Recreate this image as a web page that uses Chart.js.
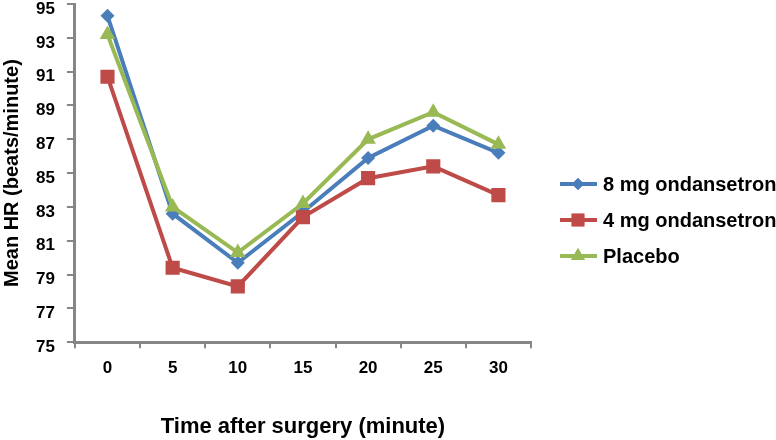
<!DOCTYPE html>
<html>
<head>
<meta charset="utf-8">
<script src="https://cdn.jsdelivr.net/npm/chart.js@4"></script>
<style>
  html, body { margin: 0; padding: 0; background: #fff; }
  #wrap { width: 776px; height: 440px; }
</style>
</head>
<body>
<div id="wrap"><canvas id="myChart"></canvas></div>
<script>
const minutes = ['0', '5', '10', '15', '20', '25', '30'];
const ond8 = [94.3, 82.6, 79.7, 82.7, 85.9, 87.8, 86.2];
const ond4 = [90.7, 79.4, 78.3, 82.4, 84.7, 85.4, 83.7];
const placebo = [93.2, 83.0, 80.3, 83.2, 87.0, 88.6, 86.7];
const seriesNames = ['8 mg ondansetron', '4 mg ondansetron', 'Placebo'];

const axisGrey = '#868686';
const font = 'Liberation Sans, Arial, sans-serif';

// legend drawn by hand: line with marker, like the office chart
const sideLegend = {
  id: 'sideLegend',
  afterDraw(chart) {
    const c = chart.ctx;
    const area = chart.chartArea;
    const x0 = area.right + 29;
    let y = 184;
    chart.data.datasets.forEach(ds => {
      c.save();
      c.strokeStyle = ds.borderColor;
      c.lineWidth = 4;
      c.beginPath();
      c.moveTo(x0, y);
      c.lineTo(x0 + 37, y);
      c.stroke();
      c.fillStyle = ds.borderColor;
      Chart.helpers.drawPoint(c, {pointStyle: ds.pointStyle, radius: ds.pointRadius - 1, borderWidth: 0}, x0 + 18, y);
      c.fill();
      c.fillStyle = '#000';
      c.font = 'bold 20px ' + font;
      c.textBaseline = 'middle';
      c.fillText(ds.label, x0 + 43, y + 1);
      c.restore();
      y += 36;
    });
  }
};

const ctx = document.getElementById('myChart').getContext('2d');

new Chart(ctx, {
  type: 'line',
  data: {
    labels: minutes,
    datasets: [{
      label: seriesNames[0],
      data: ond8,
      borderColor: '#4A7EBB',
      backgroundColor: '#4A7EBB',
      pointStyle: 'rectRot',
      pointRadius: 7,
      order: 3
    }, {
      label: seriesNames[1],
      data: ond4,
      borderColor: '#BE4B48',
      backgroundColor: '#BE4B48',
      pointStyle: 'rect',
      pointRadius: 10,
      order: 2
    }, {
      label: seriesNames[2],
      data: placebo,
      borderColor: '#98B954',
      backgroundColor: '#98B954',
      pointStyle: 'triangle',
      pointRadius: 9,
      order: 1
    }]
  },
  options: {
    responsive: true,
    maintainAspectRatio: false,
    animation: false,
    elements: {
      line: { borderWidth: 4, tension: 0 },
      point: { borderWidth: 0, hoverRadius: 9 }
    },
    layout: {
      autoPadding: false,
      padding: { left: 0, right: 245, top: 4, bottom: 0 }
    },
    scales: {
      x: {
        offset: true,
        grid: {
          offset: true,
          drawOnChartArea: false,
          color: axisGrey,
          lineWidth: 2,
          tickLength: 6
        },
        border: { color: axisGrey, width: 3 },
        ticks: {
          color: '#000',
          padding: 10,
          font: { family: font, size: 17, weight: 'bold' }
        },
        title: {
          display: true,
          text: 'Time after surgery (minute)',
          color: '#000',
          padding: { top: 25, bottom: 0 },
          font: { family: font, size: 22, weight: 'bold' }
        }
      },
      y: {
        min: 75,
        max: 95,
        afterFit(scale) {
          // let the plot reach the top edge like the original
          scale.paddingTop = 0;
        },
        grid: {
          drawOnChartArea: false,
          color: axisGrey,
          lineWidth: 2,
          tickLength: 8
        },
        border: { color: axisGrey, width: 3 },
        ticks: {
          stepSize: 2,
          color: '#000',
          padding: 12,
          labelOffset: 5,
          font: { family: font, size: 17, weight: 'bold' }
        },
        title: {
          display: true,
          text: 'Mean HR (beats/minute)',
          color: '#000',
          padding: { top: 0, bottom: 0 },
          font: { family: font, size: 20, weight: 'bold' }
        }
      }
    },
    plugins: {
      legend: { display: false },
      tooltip: { enabled: false }
    }
  },
  plugins: [sideLegend]
});
</script>
</body>
</html>
